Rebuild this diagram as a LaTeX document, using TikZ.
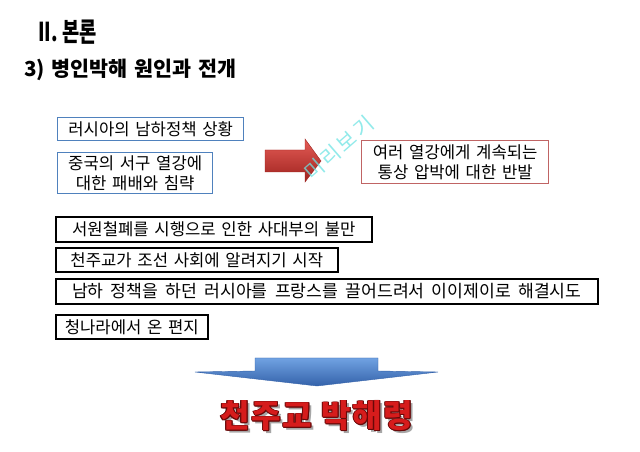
\documentclass[tikz,border=0pt]{standalone}
\usepackage{fontspec}
\setmainfont{Noto Sans CJK KR}
\definecolor{boxblue}{RGB}{79,129,189}
\definecolor{boxred}{RGB}{192,100,100}
\definecolor{redtop}{RGB}{228,92,86}
\definecolor{redbot}{RGB}{158,34,30}
\definecolor{bluetop}{RGB}{112,162,226}
\definecolor{bluebot}{RGB}{52,98,170}
\definecolor{bigred}{RGB}{214,28,28}
\definecolor{bigline}{RGB}{105,8,8}
\definecolor{wmcyan}{RGB}{110,228,228}
\newcommand{\boxfont}{\fontsize{12.5}{15}\selectfont\spaceskip=0.34em plus 0.1em\relax}
\newcommand{\widefont}{\fontsize{12.9}{15}\selectfont\spaceskip=0.42em\relax}
\newcommand{\subfont}{\fontsize{15.5}{18}\selectfont\bfseries\spaceskip=0.32em\relax}
\newcommand{\bigfont}{\fontsize{24}{28}\selectfont\bfseries\addfontfeatures{LetterSpace=5}\spaceskip=0.3em\relax}
\newcommand{\wmfont}{\fontsize{15.5}{18}\selectfont\addfontfeatures{LetterSpace=12}}
\begin{document}
\begin{tikzpicture}[x=0.75pt,y=-0.75pt,
  bluebox/.style={draw=boxblue, line width=1.1pt, fill=white, inner sep=0pt,
    align=center, anchor=north west, font=\boxfont},
  redbox/.style={draw=boxred, line width=1.1pt, fill=white, inner sep=0pt,
    align=center, anchor=north west, font=\boxfont},
  blkbox/.style={draw=black, line width=1.2pt, fill=white, inner sep=0pt,
    align=center, anchor=north west, font=\boxfont},
  bigtext/.style={font=\bigfont, inner sep=0pt}
]
\useasboundingbox (0,0) rectangle (640,452);
\fill[white] (0,0) rectangle (640,452);

% titles
\node[anchor=west, inner sep=0pt, font=\fontsize{19.5}{22}\selectfont\bfseries] (title) at (38,32) {\scalebox{0.72}[1]{II. 본론}};
\node[anchor=west, inner sep=0pt, font=\subfont] (sub) at (24,70) {3) 병인박해 원인과 전개};

% blue boxes
\node[bluebox, minimum width=139.5pt, minimum height=17.25pt] (b1) at (57,117) {러시아의 남하정책 상황};
\node[bluebox, minimum width=116.25pt, minimum height=30.75pt] (b2) at (57,152) {중국의 서구 열강에\\ 대한 패배와 침략};

% red arrow
\shade[top color=redtop, bottom color=redbot, draw=redbot, line width=0.3pt]
  (265,150) -- (305,150) -- (305,139) -- (321,161) -- (305,182) -- (305,172) -- (265,172) -- cycle;

% red box
\node[redbox, minimum width=140.25pt, minimum height=32.25pt] (r1) at (361,140) {여러 열강에게 계속되는\\ 통상 압박에 대한 반발};

% black boxes
\node[blkbox, minimum width=237pt, minimum height=18.75pt] (k1) at (55,216) {서원철폐를 시행으로 인한 사대부의 불만};
\node[blkbox, minimum width=211.5pt, minimum height=18pt] (k2) at (55,247) {천주교가 조선 사회에 알려지기 시작};
\node[blkbox, minimum width=406.5pt, minimum height=18.75pt, font=\widefont] (k3) at (55,278) {남하 정책을 하던 러시아를 프랑스를 끌어드려서 이이제이로 해결시도};
\node[blkbox, minimum width=114pt, minimum height=18pt] (k4) at (55,314) {청나라에서 온 편지};

% blue down arrow
\shade[top color=bluetop, bottom color=bluebot, draw=bluebot, line width=0.3pt]
  (255,358) -- (378,358) -- (378,371) -- (438,372) -- (317,386) -- (195,372) -- (255,371) -- cycle;

% big text
\node[bigtext, text=black!35] (hs) at (319.5,418.5) {천주교 박해령};
\foreach \dx/\dy [count=\i] in {-0.9/0,0.9/0,0/-0.9,0/0.9,-0.7/-0.7,0.7/0.7,-0.7/0.7,0.7/-0.7}
  \node[bigtext, text=bigline] (ho\i) at (317+\dx,416+\dy) {천주교 박해령};
\node[bigtext, text=bigred] (h) at (317,416) {천주교 박해령};

% watermark
\node[rotate=41, font=\wmfont, text=wmcyan, opacity=0.75, inner sep=0pt] (wm) at (339,148) {미리보기};
\end{tikzpicture}
\end{document}
